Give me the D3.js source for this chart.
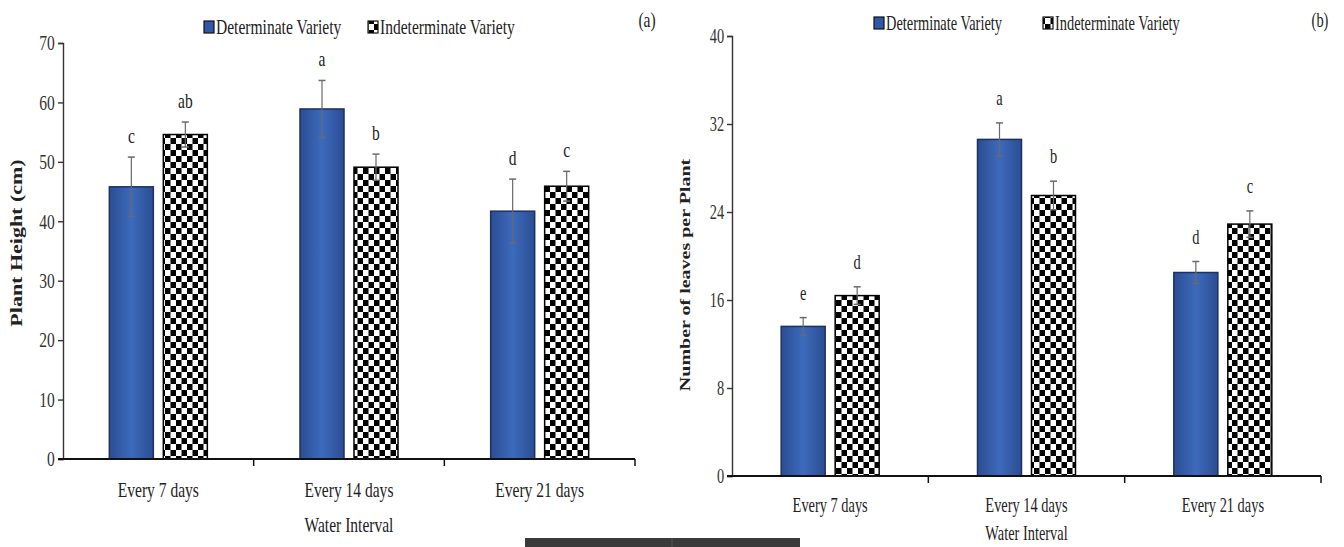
<!DOCTYPE html>
<html>
<head>
<meta charset="utf-8">
<script src="https://cdn.jsdelivr.net/npm/d3@7"></script>
<style>
  body { margin: 0; background: #fff; }
  svg { display: block; font-family: "Liberation Serif", "Times New Roman", serif; }
</style>
</head>
<body>
<script>
var categories = ['Every 7 days', 'Every 14 days', 'Every 21 days']
var seriesNames = ['Determinate Variety', 'Indeterminate Variety']

// (a) plant height, cm
var heightTicks = [0, 10, 20, 30, 40, 50, 60, 70]
var heightDet = [45.8, 58.9, 41.7]
var heightDetErr = [5.0, 4.8, 5.4]
var heightDetLetters = ['c', 'a', 'd']
var heightInd = [54.6, 49.1, 45.9]
var heightIndErr = [2.1, 2.2, 2.5]
var heightIndLetters = ['ab', 'b', 'c']

// (b) number of leaves per plant
var leavesTicks = [0, 8, 16, 24, 32, 40]
var leavesDet = [13.6, 30.6, 18.5]
var leavesDetErr = [0.8, 1.5, 1.0]
var leavesDetLetters = ['e', 'a', 'd']
var leavesInd = [16.4, 25.5, 22.9]
var leavesIndErr = [0.8, 1.3, 1.2]
var leavesIndLetters = ['d', 'b', 'c']

var svg = d3.select('body')
            .append('svg')
            .attr('width', 1344)
            .attr('height', 547)

var defs = svg.append('defs')

var grad = defs.append('linearGradient')
  .attr('id', 'blueGrad')
  .attr('x1', 0).attr('x2', 1).attr('y1', 0).attr('y2', 0)
grad.append('stop').attr('offset', '0%').attr('stop-color', '#2b4d92')
grad.append('stop').attr('offset', '50%').attr('stop-color', '#3d6abc')
grad.append('stop').attr('offset', '100%').attr('stop-color', '#2b4d92')

var pat = defs.append('pattern')
  .attr('id', 'checker')
  .attr('patternUnits', 'userSpaceOnUse')
  .attr('width', 11).attr('height', 12)
pat.append('rect').attr('width', 11).attr('height', 12).attr('fill', '#fff')
pat.append('rect').attr('width', 5.5).attr('height', 6).attr('fill', '#000')
pat.append('rect').attr('x', 5.5).attr('y', 6).attr('width', 5.5).attr('height', 6).attr('fill', '#000')

// squeezed serif text, the source figure is narrowed horizontally
function label (g, x, y, s, opts) {
  opts = opts || {}
  var sx = opts.sx || 0.82
  var t = g.append('text')
    .attr('transform', 'translate(' + x + ',' + y + ')' + (opts.rotate ? ' rotate(-90) scale(1,' + sx + ')' : ' scale(' + sx + ',1)'))
    .attr('text-anchor', opts.anchor || 'middle')
    .attr('font-size', opts.size || 19)
    .attr('font-weight', opts.bold ? 'bold' : null)
    .attr('fill', opts.fill || '#222')
    .text(s)
  return t
}

function drawPanel (p) {
  var g = svg.append('g')

  var x0 = d3.scaleBand()
    .domain(categories)
    .range([p.left, p.right])
    .padding(0)

  var mid = x0.bandwidth() / 2
  var x1 = d3.scaleBand()
    .domain(seriesNames)
    .range([mid - 49, mid + 49])
    .paddingInner(0.185)

  var y = d3.scaleLinear()
    .domain([0, d3.max(p.ticks)])
    .range([p.bottom, p.top])

  var series = [
    { name: seriesNames[0], values: p.det, err: p.detErr, letters: p.detLetters, fill: 'url(#blueGrad)', stroke: '#1d3160' },
    { name: seriesNames[1], values: p.ind, err: p.indErr, letters: p.indLetters, fill: 'url(#checker)', stroke: '#000' }
  ]

  // BARS
  series.forEach(function (s) {
    g.selectAll(null)
      .data(s.values)
      .enter()
        .append('rect')
        .attr('x', function (d, i) { return x0(categories[i]) + x1(s.name) })
        .attr('y', function (d) { return y(d) })
        .attr('width', x1.bandwidth())
        .attr('height', function (d) { return y(0) - y(d) })
        .attr('fill', s.fill)
        .attr('stroke', s.stroke)
        .attr('stroke-width', 1.5)
  })

  // ERROR BARS + LETTERS
  series.forEach(function (s) {
    s.values.forEach(function (v, i) {
      var cx = x0(categories[i]) + x1(s.name) + x1.bandwidth() / 2
      var hi = y(v + s.err[i])
      var lo = y(v - s.err[i])
      g.append('line').attr('x1', cx).attr('x2', cx).attr('y1', hi).attr('y2', lo)
        .attr('stroke', '#6a6a6a').attr('stroke-width', 1.2)
      g.append('line').attr('x1', cx - 3.5).attr('x2', cx + 3.5).attr('y1', hi).attr('y2', hi)
        .attr('stroke', '#6a6a6a').attr('stroke-width', 1.5)
      g.append('line').attr('x1', cx - 3.5).attr('x2', cx + 3.5).attr('y1', lo).attr('y2', lo)
        .attr('stroke', '#6a6a6a').attr('stroke-width', 1.5)
      label(g, cx, hi - p.letterOff, s.letters[i], { size: p.font, sx: p.sx })
    })
  })

  // Y AXIS
  var yAxis = g.append('g')
    .attr('transform', 'translate(' + p.left + ',0)')
    .call(d3.axisLeft(y).tickValues(p.ticks).tickSize(5).tickSizeOuter(5).tickPadding(6))
  yAxis.select('.domain').attr('stroke', '#333').attr('stroke-width', 1.4)
  yAxis.selectAll('.tick line').attr('stroke', '#333').attr('stroke-width', 1.4)
  yAxis.selectAll('.tick text')
    .attr('font-family', '"Liberation Serif", serif')
    .attr('font-size', p.font)
    .attr('fill', '#333')
    .attr('transform', 'scale(' + p.sx + ',1)')

  // X AXIS (ticks sit between the categories)
  var base = y(0)
  g.append('line')
    .attr('x1', p.left - 5).attr('x2', p.right)
    .attr('y1', base).attr('y2', base)
    .attr('stroke', '#111').attr('stroke-width', 2)
  var splits = categories.slice(1).map(function (c) { return x0(c) }).concat([p.right])
  g.selectAll(null)
    .data(splits)
    .enter()
      .append('line')
      .attr('x1', function (d) { return d }).attr('x2', function (d) { return d })
      .attr('y1', base).attr('y2', base + 7)
      .attr('stroke', '#111').attr('stroke-width', 1.5)

  categories.forEach(function (c) {
    label(g, x0(c) + mid, p.catY, c, { size: p.font, sx: p.sx })
  })
  label(g, x0(categories[1]) + mid, p.titleY, 'Water Interval', { size: p.font, sx: p.sx })

  // Y TITLE
  label(g, p.yTitleX, p.yTitleY, p.yTitle, { rotate: true, bold: true, size: p.titleFont, sx: p.sx })

  // LEGEND
  p.legend.forEach(function (l, i) {
    g.append('rect')
      .attr('x', l.x).attr('y', p.legendY - 6)
      .attr('width', 10).attr('height', 12)
      .attr('fill', i === 0 ? '#2f58a8' : 'url(#checker)')
      .attr('stroke', '#111').attr('stroke-width', 1.2)
    label(g, l.x + 12, p.legendY + 7, seriesNames[i], { anchor: 'start', size: p.font, sx: p.sx })
  })

  label(g, p.tag.x, p.tag.y, p.tag.text, { size: p.font, sx: p.sx })
}

drawPanel({
  left: 63, right: 635, top: 43, bottom: 459,
  ticks: heightTicks,
  det: heightDet, detErr: heightDetErr, detLetters: heightDetLetters,
  ind: heightInd, indErr: heightIndErr, indLetters: heightIndLetters,
  letterOff: 14, font: 21, titleFont: 22, sx: 0.74,
  catY: 497, titleY: 532,
  yTitle: 'Plant Height (cm)', yTitleX: 22, yTitleY: 243,
  legendY: 27, legend: [{ x: 204 }, { x: 368 }],
  tag: { x: 647, y: 27, text: '(a)' }
})

drawPanel({
  left: 732, right: 1321, top: 36, bottom: 476,
  ticks: leavesTicks,
  det: leavesDet, detErr: leavesDetErr, detLetters: leavesDetLetters,
  ind: leavesInd, indErr: leavesIndErr, indLetters: leavesIndLetters,
  letterOff: 18, font: 20, titleFont: 20, sx: 0.72,
  catY: 512, titleY: 540,
  yTitle: 'Number of leaves per Plant', yTitleX: 690, yTitleY: 275,
  legendY: 23, legend: [{ x: 874 }, { x: 1043 }],
  tag: { x: 1320, y: 27, text: '(b)' }
})

// dark strip at the bottom edge of the screenshot
svg.append('rect').attr('x', 525).attr('y', 538).attr('width', 275).attr('height', 9).attr('fill', '#3a3a3a')
svg.append('line').attr('x1', 672).attr('x2', 672).attr('y1', 538).attr('y2', 547).attr('stroke', '#555')
</script>
</body>
</html>
